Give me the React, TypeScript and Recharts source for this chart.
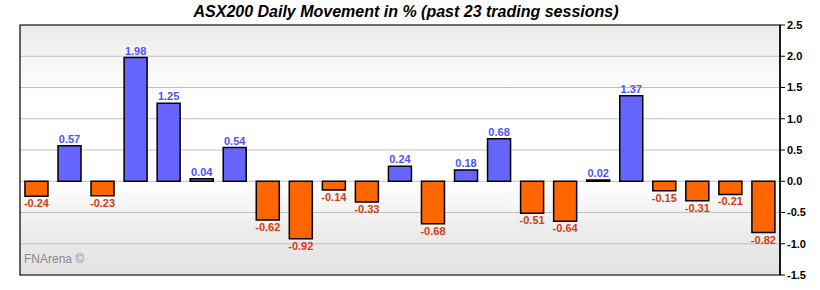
import { BarChart, Bar, XAxis, YAxis, CartesianGrid, ReferenceArea, LabelList, Cell } from "recharts";

// sessions (past 23 trading days), oldest first
const sessions = [
  "S1", "S2", "S3", "S4", "S5", "S6", "S7", "S8", "S9", "S10", "S11", "S12",
  "S13", "S14", "S15", "S16", "S17", "S18", "S19", "S20", "S21", "S22", "S23",
];
const moves = [
  -0.24, 0.57, -0.23, 1.98, 1.25, 0.04, 0.54, -0.62, -0.92, -0.14, -0.33, 0.24,
  -0.68, 0.18, 0.68, -0.51, -0.64, 0.02, 1.37, -0.15, -0.31, -0.21, -0.82,
];
const yTicks = [-1.5, -1.0, -0.5, 0, 0.5, 1.0, 1.5, 2.0, 2.5];

const data = sessions.map((s, i) => ({ s, v: moves[i] }));

const FONT = "'Liberation Sans', Arial, sans-serif";

function ValueLabel(props: any) {
  const { x, y, width, height, value } = props;
  const pos = value >= 0;
  const cx = x + width / 2;
  const top = Math.min(y, y + height);
  const bot = Math.max(y, y + height);
  return (
    <text
      x={cx}
      y={pos ? top - 3 : bot + 11}
      textAnchor="middle"
      fontFamily={FONT}
      fontSize={11}
      fontWeight="bold"
      fill={pos ? "#5050ff" : "#d93a12"}
    >
      {value.toFixed(2)}
    </text>
  );
}

export default function App() {
  return (
    <div style={{ position: "absolute", left: 0, top: 0, width: 820, height: 290, background: "#fff" }}>
      <div
        style={{
          position: "absolute",
          left: 0,
          width: 812,
          top: 3,
          textAlign: "center",
          fontFamily: FONT,
          fontSize: 16,
          fontWeight: "bold",
          fontStyle: "italic",
          color: "#000",
        }}
      >
        ASX200 Daily Movement in % (past 23 trading sessions)
      </div>
      <BarChart
        width={820}
        height={290}
        data={data}
        margin={{ top: 25, right: 0, left: 20, bottom: 15 }}
        barCategoryGap="15%"
      >
        <defs>
          <linearGradient id="bgGrad" x1="0" y1="0" x2="0" y2="1">
            <stop offset="0%" stopColor="#eaeaea" />
            <stop offset="28%" stopColor="#ffffff" />
            <stop offset="62%" stopColor="#ffffff" />
            <stop offset="82%" stopColor="#ececec" />
            <stop offset="100%" stopColor="#e2e2e2" />
          </linearGradient>
        </defs>
        <CartesianGrid vertical={false} stroke="#c0c0c0" fill="url(#bgGrad)" fillOpacity={1} />
        <XAxis dataKey="s" hide />
        <YAxis
          orientation="right"
          width={40}
          domain={[-1.5, 2.5]}
          ticks={yTicks}
          interval={0}
          tickFormatter={(v: number) => v.toFixed(1)}
          axisLine={{ stroke: "#000", strokeWidth: 1.5 }}
          tickLine={{ stroke: "#000" }}
          tickSize={5}
          tick={{ fill: "#000", fontSize: 11, fontWeight: "bold", fontFamily: FONT }}
        />
        <ReferenceArea y1={-1.5} y2={2.5} fill="none" stroke="#000" strokeWidth={1.2} ifOverflow="visible" />
        <Bar dataKey="v" stroke="#000" strokeWidth={1.5} isAnimationActive={false}>
          {data.map((d, i) => (
            <Cell key={i} fill={d.v >= 0 ? "#6666ff" : "#ff6600"} />
          ))}
          <LabelList dataKey="v" content={ValueLabel} />
        </Bar>
      </BarChart>
      <div
        style={{
          position: "absolute",
          left: 24,
          top: 252,
          fontFamily: FONT,
          fontSize: 12,
          color: "#888",
        }}
      >
        FNArena ©
      </div>
    </div>
  );
}
